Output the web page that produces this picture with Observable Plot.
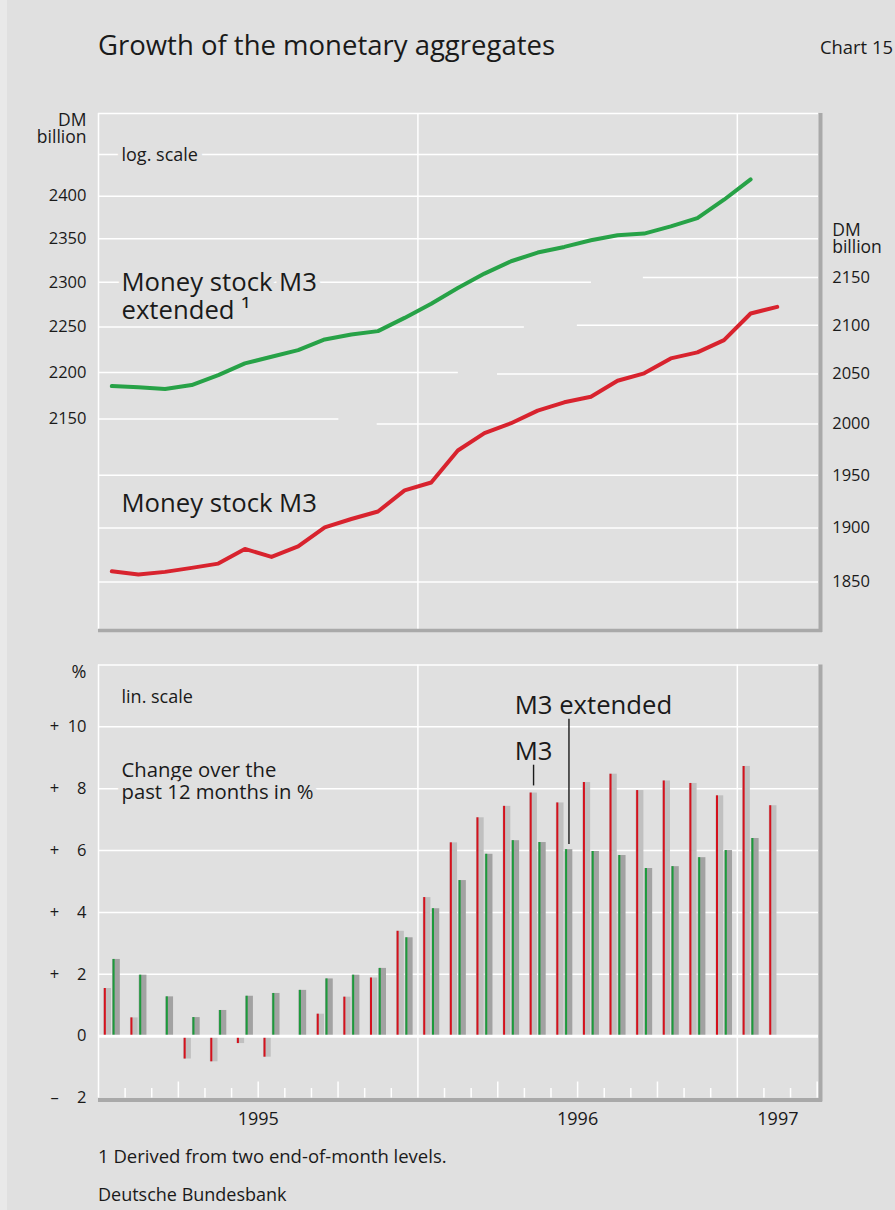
<!DOCTYPE html>
<html><head><meta charset="utf-8">
<script src="https://cdn.jsdelivr.net/npm/d3@7"></script>
<script src="https://cdn.jsdelivr.net/npm/@observablehq/plot@0.6"></script>
<style>
body{margin:0;background:#e0e0e0;font-family:"Open Sans",sans-serif;color:#1a1a1a}
#page{position:relative;width:895px;height:1210px;background:linear-gradient(to right,#e9e9e9 0,#e9e9e9 7px,#e0e0e0 7px);overflow:hidden}
.t{position:absolute;white-space:nowrap;line-height:1}
#top,#bottom{position:absolute;left:0}
</style></head><body><div id="page">
<div class="t" style="left:98px;top:30.5px;font-size:27.5px">Growth of the monetary aggregates</div>
<div class="t" style="left:820px;top:38px;font-size:18.4px">Chart 15</div>
<div id="top" style="top:80px"></div>
<div id="bottom" style="top:640px"></div>
<div class="t" style="left:98px;top:1147px;font-size:18.5px">1 Derived from two end-of-month levels.</div>
<div class="t" style="left:98px;top:1185px;font-size:18px">Deutsche Bundesbank</div>
</div>
<script>
// ---------- data ----------
const months = ["1995-01","1995-02","1995-03","1995-04","1995-05","1995-06","1995-07","1995-08","1995-09","1995-10","1995-11","1995-12",
                "1996-01","1996-02","1996-03","1996-04","1996-05","1996-06","1996-07","1996-08","1996-09","1996-10","1996-11","1996-12",
                "1997-01","1997-02"];
// Money stock M3, DM billion (right-hand log scale)
const m3Level = [1859.8,1856.7,1859.2,1862.9,1866.8,1880.4,1873.0,1882.8,1900.5,1908.4,1915.5,1935.5,
                 1943.1,1974.0,1991.0,2000.8,2013.3,2021.6,2027.2,2043.2,2050.7,2065.9,2072.0,2084.6,
                 2112.2,2119.1];
// Money stock M3 extended, DM billion (left-hand log scale)
const m3ExtLevel = [2185.2,2183.8,2182.0,2186.3,2197.1,2209.8,2217.0,2224.3,2236.1,2241.5,2245.3,2260.0,
                    2275.9,2293.6,2310.0,2324.1,2334.1,2340.6,2348.3,2354.1,2356.1,2364.5,2374.2,2395.8,
                    2419.9,null];
// Change over the past 12 months in %
const m3Growth = [1.54,0.59,0.0,-0.74,-0.83,-0.24,-0.68,0.0,0.71,1.26,1.88,3.39,
                  4.48,6.25,7.06,7.43,7.86,7.54,8.20,8.47,7.94,8.25,8.17,7.77,
                  8.72,7.45];
const m3ExtGrowth = [2.48,1.97,1.27,0.60,0.83,1.29,1.38,1.48,1.85,1.97,2.19,3.18,
                     4.12,5.03,5.88,6.32,6.26,6.03,5.97,5.84,5.42,5.48,5.77,6.00,
                     6.39,null];
const leftTicks = [2150,2200,2250,2300,2350,2400];
const rightTicks = [1850,1900,1950,2000,2050,2100,2150];
const pctTicks = [-2,0,2,4,6,8,10];
const years = ["1995","1996","1997"];

// ---------- styling ----------
const BG="#e0e0e0", RED="#d8232e", GREEN="#27a247", TXT="#1a1a1a", FRAME="#a9a9a9", W="#ffffff";
const BAR_RED="#d4111c", BAR_GREEN="#1c9a3b", LGRAY="#c0c0c0", DGRAY="#a2a2a2";
const K = 1.0723;            // offset of right-hand log scale against left-hand one
const XMAX = 27.05;          // months shown from Jan 1995
const TOP_DOMAIN = [1937.7, 2500];
const FONT = "Open Sans";

const levels = months.map((m,i)=>({i, m3:m3Level[i], ext:m3ExtLevel[i]}));
const growth = months.map((m,i)=>({i, m3:m3Growth[i], ext:m3ExtGrowth[i]}));

// gridline extents (months) to keep the two scales' lines apart
const leftGrid = [[2150,9.03],[2200,13.52],[2250,16.0],[2300,18.52],[2350,XMAX],[2400,XMAX],[2450,XMAX],[2500,XMAX]];
const rightGrid = [[1850,0],[1900,0],[1950,0],[2000,10.47],[2050,14.99],[2100,17.99],[2150,20.47]];

const halo = {stroke:BG, strokeWidth:10, paintOrder:"stroke", strokeLinejoin:"round"};

const topPlot = Plot.plot({
  width:895, height:560, marginLeft:98, marginRight:77, marginTop:33, marginBottom:11,
  style:{background:"transparent", fontFamily:FONT, fontSize:"16.5px", color:TXT, overflow:"visible"},
  x:{domain:[0,XMAX], axis:null},
  y:{type:"log", domain:TOP_DOMAIN, label:null},
  marks:[
    Plot.ruleY(leftGrid,{y:d=>d[0], x1:0, x2:d=>d[1], stroke:W, strokeWidth:1.5}),
    Plot.ruleY(rightGrid,{y:d=>d[0]*K, x1:d=>d[1], x2:XMAX, stroke:W, strokeWidth:1.5}),
    Plot.ruleX([0,12,24],{stroke:W, strokeWidth:1.5}),
    Plot.ruleY([TOP_DOMAIN[0]],{dy:1, stroke:FRAME, strokeWidth:3.5, insetRight:-4}),
    Plot.ruleX([XMAX],{dx:2, stroke:FRAME, strokeWidth:4, insetBottom:-3}),
    Plot.text(["log. scale"],{x:0, y:2450, dx:23, dy:1, text:d=>d, textAnchor:"start", fontSize:18, fill:TXT, ...halo}),
    Plot.text(["Money stock M3"],{x:0, y:2300, dx:23, dy:0.5, text:d=>d, textAnchor:"start", fontSize:25.7, fill:TXT, ...halo}),
    Plot.text(["extended \u00b9"],{x:0, y:2300, dx:23, dy:28.5, text:d=>d, textAnchor:"start", fontSize:25.7, fill:TXT}),
    Plot.text(["Money stock M3"],{x:0, y:1923*K, dx:23, text:d=>d, textAnchor:"start", fontSize:25.7, fill:TXT}),
    Plot.line(levels.filter(d=>d.ext!=null),{x:d=>d.i+0.5, y:"ext", stroke:GREEN, strokeWidth:4, strokeLinejoin:"round"}),
    Plot.line(levels,{x:d=>d.i+0.5, y:d=>d.m3*K, stroke:RED, strokeWidth:4, strokeLinejoin:"round"}),
    Plot.axisY(leftTicks,{anchor:"left", tickSize:0, tickPadding:12, tickFormat:d=>String(d), label:null, fontSize:16.5}),
    Plot.axisY(rightTicks.map(t=>t*K),{anchor:"right", tickSize:0, tickPadding:13.7, tickFormat:d=>String(Math.round(d/K)), label:null, fontSize:16.5}),
    Plot.text(["DM\nbillion"],{frameAnchor:"top-left", dx:-12, text:d=>d, textAnchor:"end", lineAnchor:"top", lineHeight:1.0, fontSize:17.5, fill:TXT}),
    Plot.text(["DM\nbillion"],{frameAnchor:"top-right", dx:13.7, dy:110, text:d=>d, textAnchor:"start", lineAnchor:"top", lineHeight:1.0, fontSize:17.5, fill:TXT})
  ]
});
document.getElementById("top").appendChild(topPlot);

const PXU = 433/14; // px per percentage point
const monthTicks = d3.range(1,28).filter(i=>i%12!==0);
const sign = d=> d>0 ? "+" : d<0 ? "\u2013" : "";
const bottomPlot = Plot.plot({
  width:895, height:500, marginLeft:98, marginRight:77, marginTop:24.5, marginBottom:42.5,
  style:{background:"transparent", fontFamily:FONT, fontSize:"16.5px", color:TXT, overflow:"visible"},
  x:{domain:[0,XMAX], axis:null},
  y:{domain:[-2,12], label:null},
  marks:[
    Plot.ruleY([2,4,6,8,10,12],{stroke:W, strokeWidth:1.5}),
    Plot.ruleX([0,12,24],{stroke:W, strokeWidth:1.5}),
    Plot.ruleX(monthTicks,{x:d=>d, y1:-2, y2:d=>-2+(d%3===0?16:9.5)/PXU, stroke:W, strokeWidth:1.5}),
    Plot.rectY(growth,{x1:d=>d.i+0.2, x2:d=>d.i+0.49, y1:0, y2:"m3", fill:LGRAY}),
    Plot.ruleX(growth.filter(d=>d.m3),{x:d=>d.i+0.2, dx:1, y1:0, y2:"m3", stroke:BAR_RED, strokeWidth:2}),
    Plot.rectY(growth.filter(d=>d.ext!=null),{x1:d=>d.i+0.53, x2:d=>d.i+0.82, y1:0, y2:"ext", fill:DGRAY}),
    Plot.ruleX(growth.filter(d=>d.ext!=null),{x:d=>d.i+0.53, dx:1, y1:0, y2:"ext", stroke:BAR_GREEN, strokeWidth:2}),
    Plot.ruleY([0],{stroke:W, strokeWidth:3}),
    Plot.ruleY([-2],{dy:2, stroke:FRAME, strokeWidth:4, insetRight:-4}),
    Plot.ruleX([XMAX],{dx:2, stroke:FRAME, strokeWidth:4, insetBottom:-4}),
    Plot.axisY(pctTicks,{anchor:"left", tickSize:0, tickPadding:12, tickFormat:d=>String(Math.abs(d)), label:null, fontSize:16.5}),
    Plot.text(pctTicks,{y:d=>d, frameAnchor:"left", dx:-44, text:sign, textAnchor:"middle", fontSize:16.5, fill:TXT}),
    Plot.text(["%"],{frameAnchor:"top-left", dx:-12, dy:7.5, text:d=>d, textAnchor:"end", lineAnchor:"middle", fontSize:18, fill:TXT}),
    Plot.text(["lin. scale"],{x:0, y:10.97, dx:23, text:d=>d, textAnchor:"start", fontSize:18, fill:TXT}),
    Plot.text(["Change over the"],{x:0, y:8, dx:23, dy:-18.2, text:d=>d, textAnchor:"start", fontSize:20.3, fill:TXT}),
    Plot.text(["past 12 months in %"],{x:0, y:8, dx:23, dy:3.7, text:d=>d, textAnchor:"start", fontSize:20.3, fill:TXT, ...halo}),
    // annotations pointing at the May 1996 (M3) and June 1996 (M3 extended) bars
    Plot.ruleX([growth[16]],{x:d=>d.i+0.345, y1:d=>d.m3+0.23, y2:d=>d.m3+0.9, stroke:TXT, strokeWidth:1.4}),
    Plot.ruleX([growth[17]],{x:d=>d.i+0.675, y1:d=>d.ext+0.17, y2:10.25, stroke:TXT, strokeWidth:1.4}),
    Plot.text(["M3"],{x:growth[16].i+0.2, dx:-15, y:9.19, text:d=>d, textAnchor:"start", fontSize:25.7, fill:TXT}),
    Plot.text(["M3 extended"],{x:growth[16].i+0.2, dx:-15, y:10.67, text:d=>d, textAnchor:"start", fontSize:25.7, fill:TXT}),
    Plot.text(years,{x:(d,i)=> i<2 ? i*12+6 : (24+XMAX)/2, frameAnchor:"bottom", dy:21, text:d=>d, textAnchor:"middle", lineAnchor:"middle", fontSize:18, fill:TXT})
  ]
});
document.getElementById("bottom").appendChild(bottomPlot);
</script>
</body></html>
